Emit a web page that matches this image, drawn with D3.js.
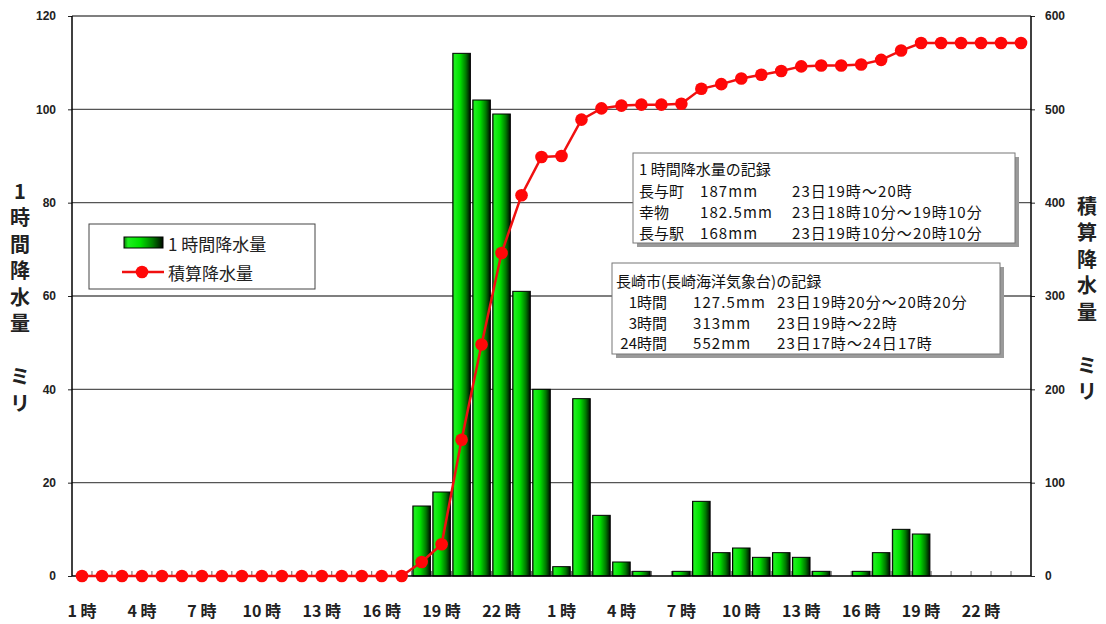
<!DOCTYPE html>
<html>
<head>
<meta charset="utf-8">
<script src="https://cdn.jsdelivr.net/npm/d3@7/dist/d3.min.js"></script>
<style>
  body { margin: 0; background: #fff; }
  text { font-family: "Noto Sans CJK JP", "Noto Sans", sans-serif; }
</style>
</head>
<body>
<div id="chart"></div>
<script>
// 23日1時 .. 24日24時
const hours = [1,2,3,4,5,6,7,8,9,10,11,12,13,14,15,16,17,18,19,20,21,22,23,24,
               1,2,3,4,5,6,7,8,9,10,11,12,13,14,15,16,17,18,19,20,21,22,23,24];
// 1時間降水量 (mm)
const hourly = [0,0,0,0,0,0,0,0,0,0,0,0,0,0,0,0,0,15,18,112,102,99,61,40,
                2,38,13,3,1,0,1,16,5,6,4,5,4,1,0,1,5,10,9,0,0,0,0,0];
// 積算降水量 (mm)
const cumulative = [0,0,0,0,0,0,0,0,0,0,0,0,0,0,0,0,0,15,34,146,248,346,408,449,
                    450,489,501,504,505,505,506,522,527,533,537,541,546,547,547,548,
                    553,563,571,571,571,571,571,571];
const leftTicks = [0,20,40,60,80,100,120];
const rightTicks = [0,100,200,300,400,500,600];
const leftTitle = ["1","時","間","降","水","量","","ミ","リ"];
const rightTitle = ["積","算","降","水","量","","ミ","リ"];
const legendLabels = ["1 時間降水量", "積算降水量"];
const box1Title = "1 時間降水量の記録";
const box1Rows = [
  ["長与町", "187mm", "23日19時～20時"],
  ["幸物", "182.5mm", "23日18時10分～19時10分"],
  ["長与駅", "168mm", "23日19時10分～20時10分"]
];
const box2Title = "長崎市(長崎海洋気象台)の記録";
const box2Rows = [
  ["1時間", "127.5mm", "23日19時20分～20時20分"],
  ["3時間", "313mm", "23日19時～22時"],
  ["24時間", "552mm", "23日17時～24日17時"]
];

const W = 1106, H = 624;
const plot = { left: 72, right: 1031, top: 16, bottom: 576 };

const svg = d3.select('#chart').append('svg')
    .attr('width', W)
    .attr('height', H);

const defs = svg.append('defs');
const grad = defs.append('linearGradient')
    .attr('id', 'barGrad')
    .attr('x1', '0%').attr('x2', '100%').attr('y1', '0%').attr('y2', '0%');
[[0, '#0b7a0b'], [0.1, '#1ef01e'], [0.42, '#00e000'], [0.74, '#007a00'], [1, '#000a00']]
  .forEach(s => grad.append('stop').attr('offset', s[0]).attr('stop-color', s[1]));

const x = d3.scaleBand()
    .domain(d3.range(hours.length))
    .range([plot.left, plot.right])
    .paddingInner(0.12)
    .paddingOuter(0.06);

const yL = d3.scaleLinear().domain([0, 120]).range([plot.bottom, plot.top]);
const yR = d3.scaleLinear().domain([0, 600]).range([plot.bottom, plot.top]);

function styleTicks(g) {
  g.select('.domain').remove();
  g.selectAll('line').attr('stroke', '#222');
  g.selectAll('text')
      .style('font-family', 'Arial, "Liberation Sans", sans-serif')
      .style('font-size', '12px')
      .style('font-weight', 'bold')
      .style('fill', '#222');
}

// left axis ticks
svg.append('g')
    .attr('transform', 'translate(' + plot.left + ',0)')
    .call(d3.axisLeft(yL).tickValues(leftTicks).tickSize(4).tickPadding(12))
    .call(styleTicks);

// gridlines
svg.append('g').selectAll('line')
    .data(leftTicks.filter(d => d > 0))
    .join('line')
    .attr('x1', plot.left).attr('x2', plot.right)
    .attr('y1', d => yL(d)).attr('y2', d => yL(d))
    .attr('stroke', '#555').attr('stroke-width', 1.3);

// right axis ticks
svg.append('g')
    .attr('transform', 'translate(' + plot.right + ',0)')
    .call(d3.axisRight(yR).tickValues(rightTicks).tickSize(4).tickPadding(10))
    .call(styleTicks);

// small ticks on the baseline at each hour boundary
svg.append('g').selectAll('line')
    .data(d3.range(1, hours.length))
    .join('line')
    .attr('x1', i => plot.left + i * x.step())
    .attr('x2', i => plot.left + i * x.step())
    .attr('y1', plot.bottom).attr('y2', plot.bottom - 5)
    .attr('stroke', '#666').attr('stroke-width', 1);

// bars
svg.append('g').selectAll('rect')
    .data(hourly.map((v, i) => ({ i: i, v: v })).filter(d => d.v > 0))
    .join('rect')
    .attr('x', d => x(d.i))
    .attr('y', d => yL(d.v))
    .attr('width', x.bandwidth())
    .attr('height', d => plot.bottom - yL(d.v))
    .attr('fill', 'url(#barGrad)')
    .attr('stroke', '#000')
    .attr('stroke-width', 1);

// axis frame
[[plot.left, plot.bottom, plot.right, plot.bottom],
 [plot.left, plot.top, plot.left, plot.bottom],
 [plot.right, plot.top, plot.right, plot.bottom]].forEach(l => {
  svg.append('line')
      .attr('x1', l[0]).attr('y1', l[1]).attr('x2', l[2]).attr('y2', l[3])
      .attr('stroke', '#000').attr('stroke-width', 1.5);
});

// cumulative line
const cx = i => x(i) + x.bandwidth() / 2;
svg.append('path')
    .datum(cumulative)
    .attr('fill', 'none')
    .attr('stroke', '#f01010')
    .attr('stroke-width', 2.5)
    .attr('d', d3.line().x((d, i) => cx(i)).y(d => yR(d)));
svg.append('g').selectAll('circle')
    .data(cumulative)
    .join('circle')
    .attr('cx', (d, i) => cx(i))
    .attr('cy', d => yR(d))
    .attr('r', 6.3)
    .attr('fill', '#ff0808');

// x labels
svg.append('g').selectAll('text')
    .data(d3.range(0, hours.length, 3))
    .join('text')
    .attr('x', i => cx(i))
    .attr('y', 617)
    .attr('text-anchor', 'middle')
    .style('font-size', '16px')
    .style('font-weight', 'bold')
    .style('fill', '#222')
    .text(i => hours[i] + ' 時');

// axis titles
function vTitle(chars, xPos, yStart, step) {
  svg.append('g').selectAll('text')
    .data(chars)
    .join('text')
    .attr('x', xPos)
    .attr('y', (d, i) => yStart + i * step)
    .attr('text-anchor', 'middle')
    .attr('dominant-baseline', 'central')
    .style('font-size', '20px')
    .style('font-weight', 'bold')
    .style('fill', '#222')
    .text(d => d);
}
vTitle(leftTitle, 20, 190, 26.5);
vTitle(rightTitle, 1087, 205, 26.5);

// legend
const lg = svg.append('g');
lg.append('rect')
    .attr('x', 89).attr('y', 224).attr('width', 226).attr('height', 65)
    .attr('fill', '#fff').attr('stroke', '#444').attr('stroke-width', 1);
lg.append('rect')
    .attr('x', 124).attr('y', 237).attr('width', 39).attr('height', 11)
    .attr('fill', 'url(#barGrad)').attr('stroke', '#000');
lg.append('line')
    .attr('x1', 122).attr('x2', 164).attr('y1', 272).attr('y2', 272)
    .attr('stroke', '#f01010').attr('stroke-width', 2.5);
lg.append('circle').attr('cx', 142).attr('cy', 272).attr('r', 6.3).attr('fill', '#ff0808');
lg.selectAll('text.lbl')
    .data(legendLabels)
    .join('text')
    .attr('class', 'lbl')
    .attr('x', 168)
    .attr('y', (d, i) => 243 + i * 29)
    .attr('dominant-baseline', 'central')
    .style('font-size', '17px')
    .style('fill', '#222')
    .text(d => d);

// info boxes
function infoBox(bx, by, bw, bh, title, titleX, rows, cols, rowYs, firstAnchor) {
  const g = svg.append('g');
  g.append('rect')
      .attr('x', bx + 4).attr('y', by + 4).attr('width', bw).attr('height', bh)
      .attr('fill', '#9a9a9a');
  g.append('rect')
      .attr('x', bx).attr('y', by).attr('width', bw).attr('height', bh)
      .attr('fill', '#fff').attr('stroke', '#777').attr('stroke-width', 1);
  g.append('text')
      .attr('x', titleX).attr('y', rowYs[0])
      .style('font-size', '15px').style('fill', '#111')
      .text(title);
  rows.forEach((r, ri) => {
    r.forEach((c, ci) => {
      g.append('text')
          .attr('x', cols[ci])
          .attr('y', rowYs[ri + 1])
          .attr('text-anchor', ci === 0 ? firstAnchor : 'start')
          .style('font-size', '15px')
          .style('letter-spacing', ci === 0 ? '0px' : '1.1px')
          .style('fill', '#111')
          .text(c);
    });
  });
}
infoBox(633, 153, 382, 90, box1Title, 639, box1Rows, [639, 700, 792], [175, 197, 218, 239], 'start');
infoBox(612, 263, 388, 91, box2Title, 616, box2Rows, [667, 693, 777], [287, 308, 329, 349], 'end');
</script>
</body>
</html>
